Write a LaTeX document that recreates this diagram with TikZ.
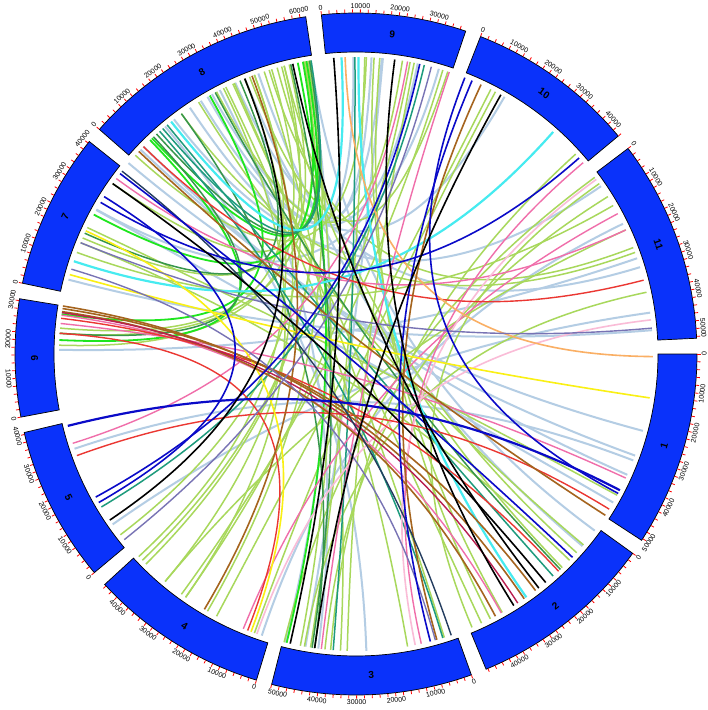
\documentclass[tikz,border=0pt]{standalone}
\usepackage{fontspec}
\setmainfont{Liberation Sans}
\definecolor{segblue}{RGB}{10,50,250}
\definecolor{cLG}{RGB}{168,216,92}
\definecolor{cLB}{RGB}{180,205,228}
\definecolor{cBL}{RGB}{10,10,200}
\definecolor{cPK}{RGB}{240,110,170}
\definecolor{cLP}{RGB}{250,188,215}
\definecolor{cRD}{RGB}{235,55,50}
\definecolor{cOR}{RGB}{250,175,100}
\definecolor{cYE}{RGB}{250,240,20}
\definecolor{cBR}{RGB}{165,100,30}
\definecolor{cMR}{RGB}{185,30,80}
\definecolor{cBG}{RGB}{30,230,30}
\definecolor{cDG}{RGB}{55,150,75}
\definecolor{cTL}{RGB}{30,155,125}
\definecolor{cCY}{RGB}{70,235,240}
\definecolor{cPU}{RGB}{120,115,180}
\definecolor{cDS}{RGB}{35,60,95}
\def\kd{0.6558}
\def\lkR{297}
\def\lkC{89}
\newcommand{\lnk}[3]{\draw[#1] (#2:\lkR) .. controls (#2:\lkC) and (#3:\lkC) .. (#3:\lkR);}
\tikzset{
 band/.style={fill=segblue, draw=black, line width=0.7pt},
 tickst/.style={draw=red, line width=0.8pt},
 ticklab/.style={font=\fontsize{7}{8}\selectfont, inner sep=0.6pt},
 seglab/.style={font=\fontsize{10}{11}\selectfont\bfseries, inner sep=0pt},
 sLB/.style={draw=cLB, line width=2pt},
 sLG/.style={draw=cLG, line width=1.5pt},
 sBG/.style={draw=cBG, line width=1.8pt},
 sDG/.style={draw=cDG, line width=1.5pt},
 sTL/.style={draw=cTL, line width=1.5pt},
 sCY/.style={draw=cCY, line width=2.2pt},
 sPK/.style={draw=cPK, line width=1.4pt},
 sLP/.style={draw=cLP, line width=1.6pt},
 sRD/.style={draw=cRD, line width=1.4pt},
 sOR/.style={draw=cOR, line width=1.6pt},
 sYE/.style={draw=cYE, line width=1.6pt},
 sBR/.style={draw=cBR, line width=1.6pt},
 sMR/.style={draw=cMR, line width=1.4pt},
 sPU/.style={draw=cPU, line width=1.4pt},
 sDS/.style={draw=cDS, line width=1.4pt},
 sBL/.style={draw=cBL, line width=1.6pt},
 sBK/.style={draw=black, line width=1.6pt}
}
\begin{document}
\begin{tikzpicture}[x=1pt,y=1pt]
\useasboundingbox (-356,-356) rectangle (352,354);
\fill[white] (-356,-356) rectangle (352,354);
% links
\foreach \u/\v in {84.8/-99.8, 117.3/-97.3, 109.2/-40.3, 135.7/-24, 127.8/34.4, 179.2/18.8, -161.4/-21, 73.8/150.9, 98.8/-36.5, 4.6/165.5, 8/-145, 124/90.5, 112/87, 130/-88, -15/140, 99.2/-103.8, 26/-108.5, 114/17, 136.5/-20, 85/120, 121.5/78, 119/60, 151/-30}
  {\lnk{sLB}{\u}{\v}}
\foreach \u/\v in {88.3/-98.8, 85.4/-63.1, 78.7/-91.7, 114.5/-65, 114.2/-72.7, 105.4/-46, 99.8/-100.8, 42.3/-94.9, 30/160, 175/110, 178.3/104, -135/100, -136/99.3, -137/112, -28.4/154.8, -40/122, 20/126, 24.7/-130, 36.5/-104, 86.5/-60.5, 103/145, 106.5/157, 62/-110, 63/-118, 79.5/-125, 116/-80, 108/-93, 12/-100, 158/-44, 35/-67, 116.5/-125, 110/-130, 98.9/-120, 107/21, 32/-96, 88/138, 81/118, -142.5/104.5, -126/73, 111/72, 104/-42, 176/100.2}
  {\lnk{sLG}{\u}{\v}}
\foreach \u/\v in {177.3/133.9, 101.3/-103.5, 172.3/119.5, 100.3/152, 133.4/99.6}
  {\lnk{sBG}{\u}{\v}}
\foreach \u/\v in {118.3/-46.5, 102.7/-98.5, 133/176, 126/-98, 113/156, 132.2/99}
  {\lnk{sDG}{\u}{\v}}
\foreach \u/\v in {90.2/-94.4, 131.4/-73, 129.5/-48.4, 76.7/-149, 130.6/98.7}
  {\lnk{sTL}{\u}{\v}}
\foreach \u/\v in {48.4/161.8, 128.5/92.8, 89.5/-55}
  {\lnk{sCY}{\u}{\v}}
\foreach \u/\v in {80/-162.5, 71.7/-96.7, 28.2/-112.3, 174.1/-24.7, 143.8/24.7, 40.1/-77.3, -60.7/172.5}
  {\lnk{sPK}{\u}{\v}}
\foreach \u/\v in {6.6/-109.5, -78.5/36}
  {\lnk{sLP}{\u}{\v}}
\foreach \u/\v in {14.4/135.7, -160/-31.5, 173.1/-47, -111.4/176}
  {\lnk{sRD}{\u}{\v}}
\lnk{sOR}{-0.5}{92.1}
\foreach \u/\v in {-8.5/164.5, -110.7/155.5}
  {\lnk{sYE}{\u}{\v}}
\foreach \u/\v in {171.2/-52.8, 170.7/-55.5, 137/-32.9, 65.1/-74.2, -120.7/110.5, 171.8/-62}
  {\lnk{sBR}{\u}{\v}}
\lnk{sMR}{172}{-57}
\foreach \u/\v in {163.4/-74.5, 75.3/-141.3, 5/158}
  {\lnk{sPU}{\u}{\v}}
\lnk{sDS}{142}{-71.3}
\foreach \u/\v in {67/-75.5, 41.3/149.3, 77.6/-151.2, 142.6/-43.2, 68.5/-28, 148/-150}
  {\lnk{sBL}{\u}{\v}}
\lnk{sBL,line width=2.2pt}{-166}{-27.3}
\foreach \u/\v in {94.3/-102.8, 102.3/-52, 82.5/-57.9, 60.8/-98, 145/-50.3, -146/112}
  {\lnk{sBK}{\u}{\v}}
% segments
\foreach \nm/\s/\L/\tm in {1/0/50.5/50, 2/-35.768/48.5/48, 3/-70.224/52/52, 4/-106.976/46.5/46, 5/-140.121/40.5/40, 6/-169.331/30.5/30, 7/-191.983/40.5/40, 8/-221.193/61.5/60, 9/-264.175/37.5/36, 10/-291.418/44/44, 11/-322.923/52.5/52}{
  \pgfmathsetmacro\segE{\s-\L*\kd}
  \filldraw[band] (\s:302) arc[start angle=\s,end angle=\segE,radius=302] -- (\segE:341) arc[start angle=\segE,end angle=\s,radius=341] -- cycle;
  \foreach \p in {0,2,...,\tm}{
    \pgfmathsetmacro\aa{\s-\p*\kd}
    \draw[tickst] (\aa:341.4) -- (\aa:344.6);
  }
  \foreach \p in {0,10,...,\tm}{
    \pgfmathsetmacro\aa{\s-\p*\kd}
    \pgfmathsetmacro\an{mod(\aa+900,360)-180}
    \pgfmathsetmacro\rt{\an>0 ? \an-90 : \an+90}
    \ifdim\an pt>0pt \def\anc{south}\else\def\anc{north}\fi
    \node[ticklab, rotate=\rt, anchor=\anc] at (\aa:345) {\ifnum\p=0 0\else\p000\fi};
  }
  \pgfmathsetmacro\mm{\s-\L*\kd/2}
  \pgfmathsetmacro\mn{mod(\mm+900,360)-180}
  \pgfmathsetmacro\rtm{\mn>0 ? \mn-90 : \mn+90}
  \node[seglab, rotate=\rtm] at (\mm:321.5) {\nm};
}
\end{tikzpicture}
\end{document}
